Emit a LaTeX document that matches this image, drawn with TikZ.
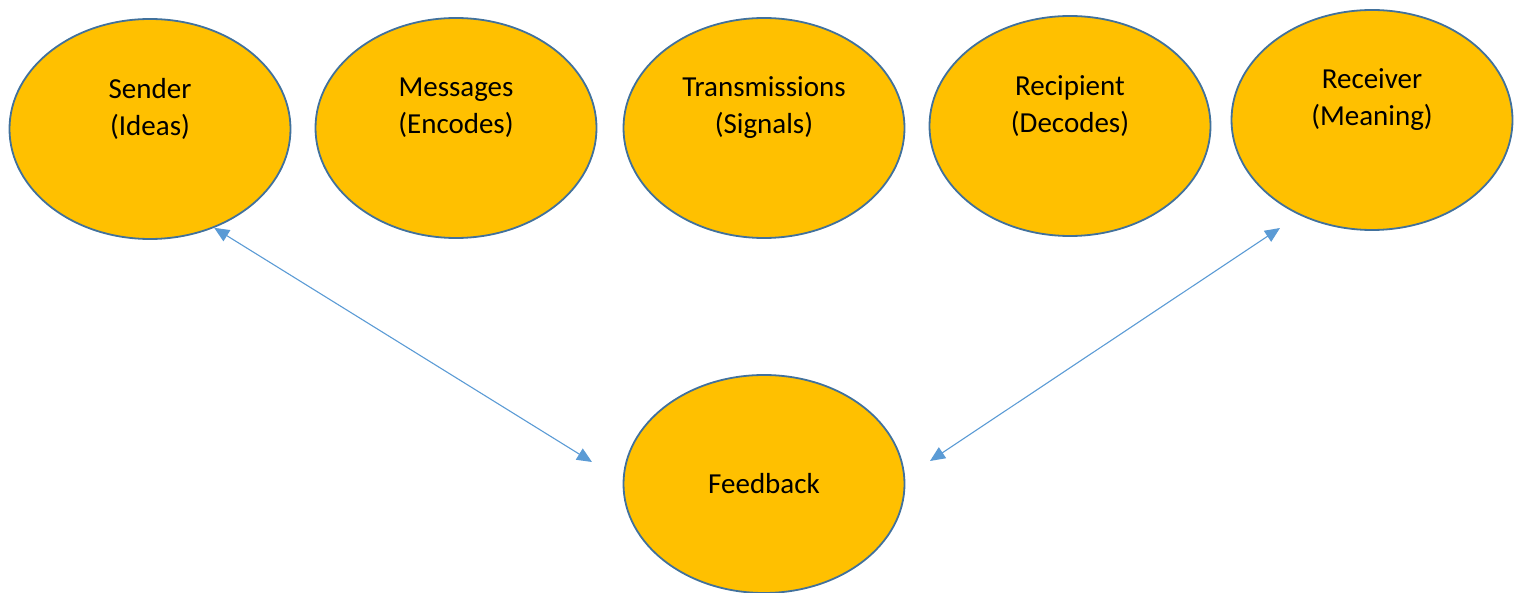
\documentclass[tikz,border=0pt]{standalone}
\usepackage{fontspec}
\setmainfont{Carlito}
\usetikzlibrary{calc}
\usetikzlibrary{arrows.meta,shapes,positioning}
\definecolor{bubblefill}{HTML}{FFC000}
\definecolor{bubbleline}{HTML}{41719C}
\definecolor{linkblue}{HTML}{5B9BD5}
\tikzset{>={Triangle[length=15pt,width=13pt]}}
\tikzset{bubble/.style={ellipse, draw=bubbleline, line width=1.8pt, fill=bubblefill,
          minimum width=281pt, minimum height=220pt, inner sep=0pt}}
\tikzset{lbl/.style={align=center, font=\fontsize{29}{37}\selectfont}}
\tikzset{link/.style={<->, draw=linkblue, line width=1.1pt}}

\begin{document}
\begin{tikzpicture}[x=1pt, y=-1pt]
          \useasboundingbox (0,0) rectangle (1519,593);
          % top row
          \node[bubble] (sender) at (150, 129) {};
          \node[bubble] (messages) at (456, 128) {};
          \node[bubble] (transmissions) at (764, 128) {};
          \node[bubble] (recipient) at (1070, 126) {};
          \node[bubble] (receiver) at (1372, 120) {};
          \node[lbl] at ([yshift=20pt]sender.center) {Sender\\(Ideas)};
          \node[lbl] at ([yshift=20pt]messages.center) {Messages\\(Encodes)};
          \node[lbl] at ([yshift=20pt]transmissions.center) {Transmissions\\(Signals)};
          \node[lbl] at ([yshift=20pt]recipient.center) {Recipient\\(Decodes)};
          \node[lbl] at ([yshift=20pt]receiver.center) {Receiver\\(Meaning)};
          % feedback
          \node[bubble, minimum height=218pt] (feedback) at (764, 484) {};
          \node[lbl] at (feedback.center) {Feedback};
          \coordinate (fbLeft) at (592, 462);
          \coordinate (fbRight) at (930, 461);
          \coordinate (rcvEnd) at (1280, 228);
          \draw[link] (sender.-57.5) -- (fbLeft);
          \draw[link] (fbRight) -- (rcvEnd);
        \end{tikzpicture}
\end{document}
